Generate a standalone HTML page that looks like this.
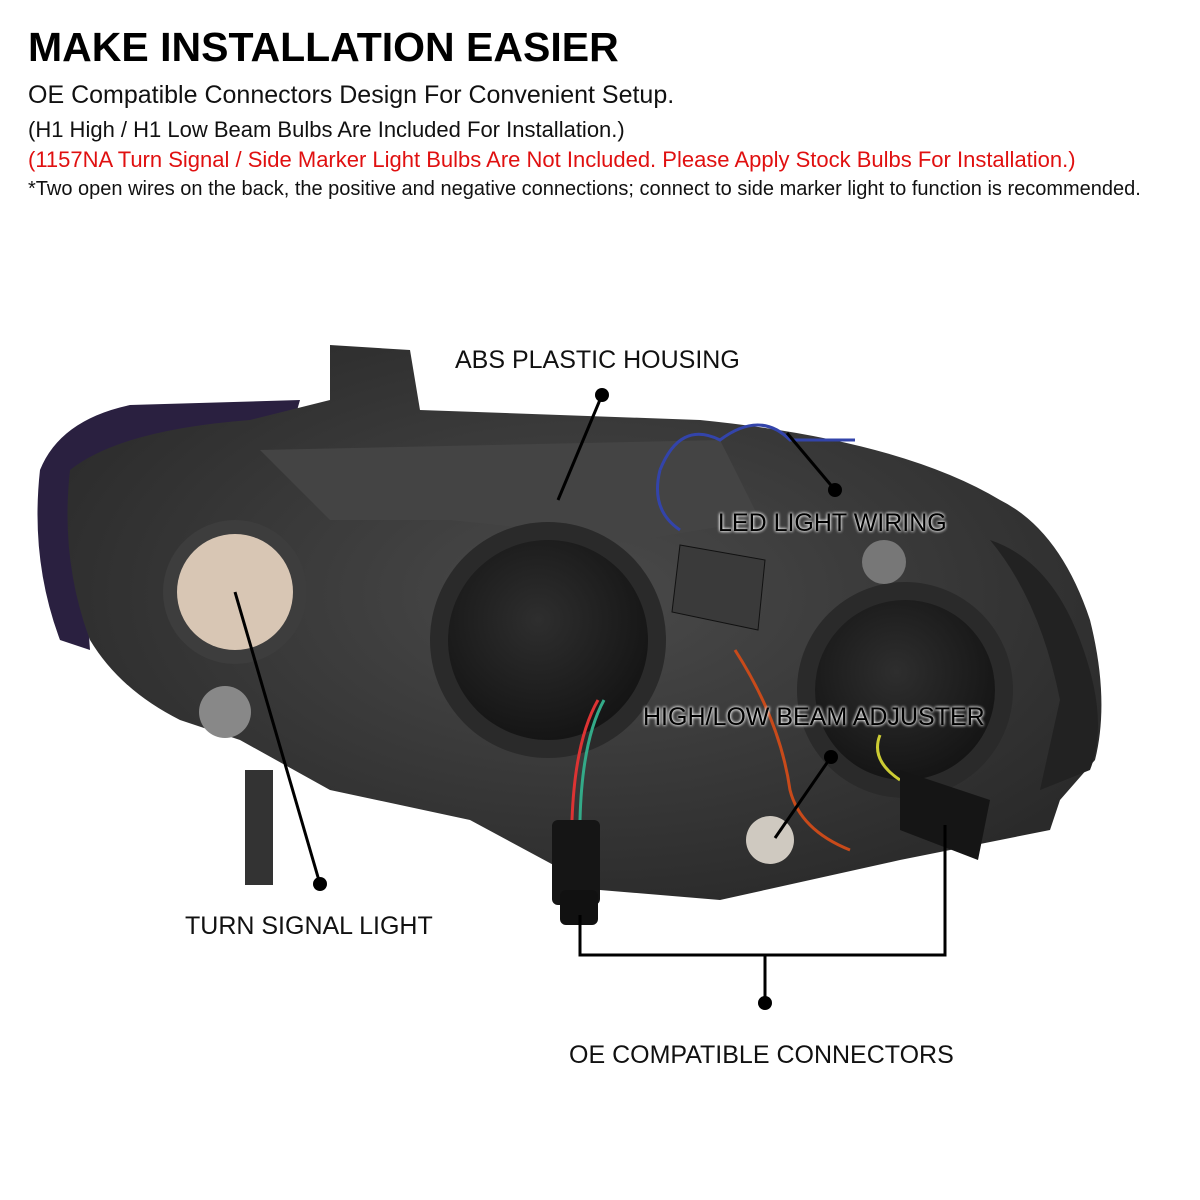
<!DOCTYPE html>
<html><head><meta charset="utf-8"><style>
body{margin:0;width:1200px;height:1200px;background:#fff;overflow:hidden;font-family:"Liberation Sans",Arial,sans-serif;position:relative}
.t{position:absolute;white-space:nowrap;color:#111}
</style></head><body>
<div class="t" style="left:28px;top:24px;font-size:41px;font-weight:bold;color:#000">MAKE INSTALLATION EASIER</div>
<div class="t" style="left:28px;top:81px;font-size:25px">OE Compatible Connectors Design For Convenient Setup.</div>
<div class="t" style="left:28px;top:117px;font-size:22px">(H1 High / H1 Low Beam Bulbs Are Included For Installation.)</div>
<div class="t" style="left:28px;top:147px;font-size:22px;color:#e01010">(1157NA Turn Signal / Side Marker Light Bulbs Are Not Included. Please Apply Stock Bulbs For Installation.)</div>
<div class="t" style="left:28px;top:178px;font-size:20px">*Two open wires on the back, the positive and negative connections; connect to side marker light to function is recommended.</div>
<svg width="1200" height="1200" style="position:absolute;left:0;top:0">
<defs>
<radialGradient id="g1" cx="50%" cy="45%" r="60%"><stop offset="0" stop-color="#4a4a4a"/><stop offset="1" stop-color="#2a2a2a"/></radialGradient>
<radialGradient id="p" cx="45%" cy="40%" r="60%"><stop offset="0" stop-color="#2e2e2e"/><stop offset="1" stop-color="#151515"/></radialGradient>
</defs>
<path d="M40,470 Q60,420 130,405 L300,400 L280,470 L120,460 Q80,520 90,650 L60,640 Q30,560 40,470Z" fill="#2a2040"/>
<path d="M70,470 Q120,430 250,420 L330,400 L330,345 L410,350 L420,410 L700,420 Q900,440 1000,500 Q1060,530 1090,620 Q1110,700 1095,760 L1060,800 L1050,830 L900,860 L720,900 L600,890 L470,820 L330,790 L240,740 L180,720 Q120,690 90,640 Q60,560 70,470Z" fill="url(#g1)"/>
<path d="M990,540 Q1050,560 1080,640 Q1110,720 1090,770 L1040,790 L1060,700 Q1040,600 990,540Z" fill="#222"/>
<path d="M260,450 L720,440 L760,520 L640,540 L450,520 L330,520Z" fill="#444"/>
<circle cx="235" cy="592" r="72" fill="#3d3d3d"/>
<circle cx="235" cy="592" r="58" fill="#d8c6b4"/>
<circle cx="225" cy="712" r="26" fill="#888"/>
<rect x="245" y="770" width="28" height="115" fill="#333"/>
<circle cx="548" cy="640" r="118" fill="#2a2a2a"/>
<circle cx="548" cy="640" r="100" fill="url(#p)"/>
<circle cx="905" cy="690" r="108" fill="#2a2a2a"/>
<circle cx="905" cy="690" r="90" fill="url(#p)"/>
<circle cx="884" cy="562" r="22" fill="#777"/>
<polygon points="680,545 765,560 758,630 672,612" fill="#3a3a3a" stroke="#111"/>
<path d="M660,470 Q680,420 720,440 Q760,410 790,440 Q820,440 855,440" stroke="#3344aa" stroke-width="3" fill="none"/>
<path d="M660,470 Q650,510 680,530" stroke="#3344aa" stroke-width="3" fill="none"/>
<path d="M735,650 Q780,720 790,790 Q800,830 850,850" stroke="#c84a1a" stroke-width="3" fill="none"/>
<path d="M598,700 Q575,740 572,820" stroke="#d33" stroke-width="3" fill="none"/>
<path d="M604,700 Q582,740 580,820" stroke="#3a8" stroke-width="3" fill="none"/>
<path d="M880,735 Q870,760 900,780" stroke="#cc3" stroke-width="3" fill="none"/>
<circle cx="770" cy="840" r="24" fill="#cfc9c0"/>
<rect x="552" y="820" width="48" height="85" rx="6" fill="#151515"/>
<rect x="560" y="890" width="38" height="35" rx="6" fill="#111"/>
<polygon points="900,770 990,800 978,860 900,830" fill="#151515"/>
<g stroke="#000" stroke-width="3" fill="none">
<line x1="602" y1="395" x2="558" y2="500"/>
<line x1="787" y1="433" x2="835" y2="490"/>
<line x1="831" y1="757" x2="775" y2="838"/>
<line x1="320" y1="884" x2="235" y2="592"/>
<polyline points="580,915 580,955 945,955 945,825"/>
<line x1="765" y1="955" x2="765" y2="1003"/>
</g>
<g fill="#000"><circle cx="602" cy="395" r="7"/><circle cx="835" cy="490" r="7"/><circle cx="831" cy="757" r="7"/><circle cx="320" cy="884" r="7"/><circle cx="765" cy="1003" r="7"/></g>
</svg>
<div class="t" style="left:455px;top:346px;font-size:25px">ABS PLASTIC HOUSING</div>
<div class="t" style="left:718px;top:509px;font-size:25px;color:#000;text-shadow:0 0 3px #fff,0 0 3px #fff">LED LIGHT WIRING</div>
<div class="t" style="left:643px;top:703px;font-size:25px;color:#000;text-shadow:0 0 3px #fff,0 0 3px #fff">HIGH/LOW BEAM ADJUSTER</div>
<div class="t" style="left:185px;top:912px;font-size:25px">TURN SIGNAL LIGHT</div>
<div class="t" style="left:569px;top:1041px;font-size:25px">OE COMPATIBLE CONNECTORS</div>
</body></html>
